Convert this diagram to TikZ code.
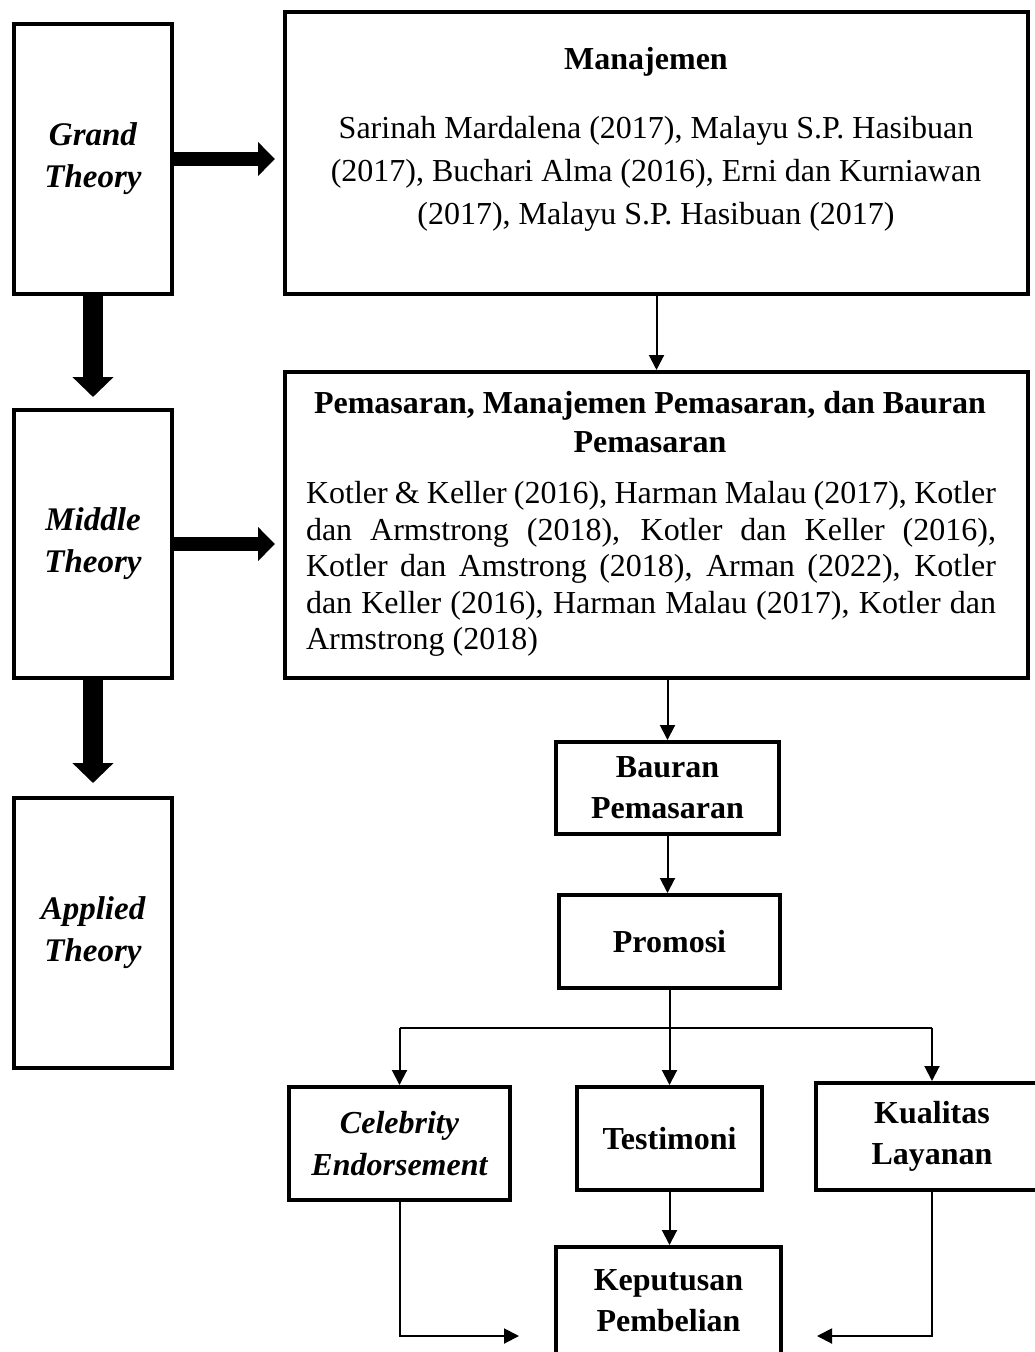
\documentclass[tikz,border=0pt]{standalone}
\usepackage{fontspec}
\setmainfont{Liberation Serif}
\usetikzlibrary{arrows.meta,positioning,calc}

\begin{document}
\begin{tikzpicture}
  [x=1pt,y=-1pt,
   every node/.style={font=\fontsize{32}{42}\selectfont,inner sep=0pt},
   box/.style={draw,line width=4pt,rectangle,align=center},
   theory/.style={box,minimum width=158pt,minimum height=270pt,
     font=\fontsize{33}{42}\selectfont\bfseries\itshape},
   refbox/.style={box,minimum width=743pt},
   varbox/.style={box,font=\fontsize{32}{41}\selectfont\bfseries},
   widearrow/.style={line width=14pt,-{Triangle[width=33pt,length=17pt]},shorten >=8pt},
   tallarrow/.style={line width=20pt,-{Triangle[width=40pt,length=20pt]}},
   link/.style={line width=2pt,-{Triangle[width=15pt,length=15pt]}}]
  \useasboundingbox (0,0) rectangle (1035,1352);
  \clip (0,0) rectangle (1035,1352);

  % theory column
  \node[theory] (grand)   at (93,159) {Grand\\Theory};
  \node[theory, minimum height=268pt] (middle) at (93,544) {Middle\\Theory};
  \node[theory] (applied) at (93,933) {Applied\\Theory};

  % reference boxes
  \node[refbox, minimum height=282pt] (man) at (656.5,153) {};
  \node[font=\fontsize{32}{42}\selectfont\bfseries] (mantitle) at (646,62) {Manajemen};
  \node[align=center, font=\fontsize{32}{43}\selectfont] (manbody) at (656,174)
    {Sarinah Mardalena (2017), Malayu S.P. Hasibuan\\
     (2017), Buchari Alma (2016), Erni dan Kurniawan\\
     (2017), Malayu S.P. Hasibuan (2017)};

  \node[refbox, minimum height=306pt] (pem) at (656.5,525) {};
  \node[align=center, font=\fontsize{32}{39}\selectfont\bfseries] (pemtitle) at (650,422)
    {Pemasaran, Manajemen Pemasaran, dan Bauran\\Pemasaran};
  \node[text width=690pt, align=justify, font=\fontsize{32}{36.5}\selectfont] (pembody) at (651,569)
    {Kotler \& Keller (2016), Harman Malau (2017), Kotler\linebreak
     dan Armstrong (2018), Kotler dan Keller (2016),\linebreak
     Kotler dan Amstrong (2018), Arman (2022), Kotler\linebreak
     dan Keller (2016), Harman Malau (2017), Kotler dan\linebreak
     Armstrong (2018)};

  % variables
  \node[varbox, minimum width=223pt, minimum height=92pt]  (bauran)  at (667.5,788)  {Bauran\\Pemasaran};
  \node[varbox, minimum width=221pt, minimum height=93pt]  (promosi) at (669.5,941.5) {Promosi};
  \node[varbox, minimum width=221pt, minimum height=113pt,
        font=\fontsize{32}{42}\selectfont\bfseries\itshape] (celeb) at (399.5,1143.5) {Celebrity\\Endorsement};
  \node[varbox, minimum width=185pt, minimum height=103pt] (testi)   at (669.5,1138.5) {Testimoni};
  \node[varbox, minimum width=232pt, minimum height=107pt] (kual)    at (932,1136.5)   {Kualitas\\Layanan};
  \node[varbox, minimum width=225pt, minimum height=108pt] (kep)     at (668.5,1301)   {Keputusan\\Pembelian};

  \coordinate (split) at ($(promosi.south)+(0,38)$);
  \coordinate (kepL) at (519,1336);
  \coordinate (kepR) at (817,1336);

  % theory arrows
  \draw[widearrow] (grand.east) -- (grand.east -| man.west);
  \draw[widearrow] (middle.east) -- (middle.east -| pem.west);
  \draw[tallarrow] (grand.south) -- ([yshift=11pt]middle.north);
  \draw[tallarrow] (middle.south) -- ([yshift=13pt]applied.north);

  % flow
  \draw[link] (man.south) -- (pem.north);
  \draw[link] (bauran.north |- pem.south) -- (bauran.north);
  \draw[link] (bauran.south) -- (bauran.south |- promosi.north);
  \draw[link] (promosi.south) -- (testi.north);
  \draw[line width=2pt] (celeb.north |- split) -- (kual.north |- split);
  \foreach \v in {celeb, kual}
    \draw[link] (\v.north |- split) -- (\v.north);
  \draw[link] (testi.south) -- (testi.south |- kep.north);
  \draw[link] (celeb.south) |- (kepL);
  \draw[link] (kual.south) |- (kepR);
\end{tikzpicture}
\end{document}
